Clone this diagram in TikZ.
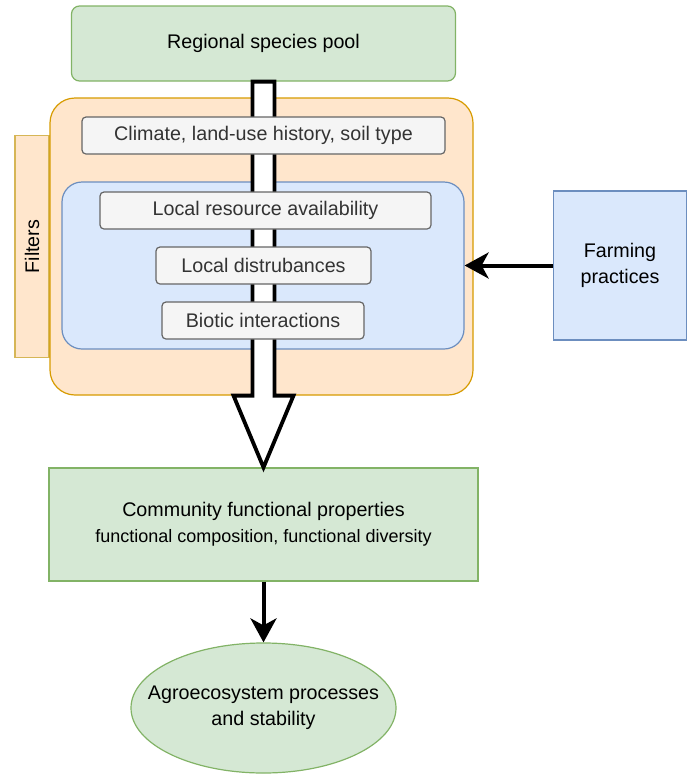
\documentclass[tikz,border=0pt]{standalone}
\usepackage{fontspec}
\setmainfont{Liberation Sans}
\usepackage{tikz}
\usepackage{xcolor}
\usetikzlibrary{arrows.meta,shapes.geometric}
\definecolor{greenfill}{HTML}{D5E8D4}
\definecolor{greenline}{HTML}{82B366}
\definecolor{orangefill}{HTML}{FFE6CC}
\definecolor{orangeline}{HTML}{D79B00}
\definecolor{goldline}{HTML}{D6B656}
\definecolor{bluefill}{HTML}{DAE8FC}
\definecolor{blueline}{HTML}{6C8EBF}
\definecolor{greyfill}{HTML}{F5F5F5}
\definecolor{greyline}{HTML}{666666}
\definecolor{greytext}{HTML}{333333}

\begin{document}
\begin{tikzpicture}[x=1pt, y=-1pt, font=\fontsize{19.7}{26}\selectfont,
    every node/.style={inner sep=0pt, align=center},
    greenbox/.style={draw=greenline, fill=greenfill, line width=1.2pt},
    orangebox/.style={draw=orangeline, fill=orangefill, line width=1.2pt},
    bluebox/.style={draw=blueline, fill=bluefill, line width=1.2pt},
    filterbox/.style={draw=greyline, fill=greyfill, text=greytext, line width=1.2pt, rounded corners=4pt, minimum height=37pt},
    hollow/.style={draw=black, fill=white, line width=3.8pt, line join=miter},
    conn/.style={draw=black, line width=4pt, -{Stealth[length=24pt, width=26pt, inset=7pt]}}]
    \useasboundingbox (0,0) rectangle (687,774);
    \node[greenbox, rounded corners=8pt, minimum width=384pt, minimum height=75pt] (pool) at (263.5,43.5) {Regional species pool};
    \node[draw=goldline, fill=orangefill, line width=1.2pt, minimum width=34pt, minimum height=222pt] (side) at (32,246.5) {};
    \node[rotate=90] (sidetext) at (side.center) {Filters};
    \node[orangebox, rounded corners=25pt, minimum width=423pt, minimum height=297pt] (filt) at (261.5,246.5) {};
    \node[bluebox, rounded corners=20pt, minimum width=402pt, minimum height=167pt] (local) at (263,265.5) {};
    \node[bluebox, minimum width=133pt, minimum height=149pt] (farm) at (620,265.5) {Farming\\practices};
    \node[greenbox, minimum width=429pt, minimum height=113pt] (comm) at (263.5,524.5) {Community functional properties\\{\fontsize{18}{22}\selectfont functional composition, functional diversity}};
    \node[greenbox, ellipse, minimum width=265pt, minimum height=130pt] (eco) at (263.5,708) {};
    \node (ecotext) at (eco.center) {Agroecosystem processes\\and stability};
    \coordinate (neck) at (pool.south |- filt.south);
    \draw[hollow] ([xshift=-11pt]pool.south) -- ([xshift=-11pt]neck) -- ([xshift=-30pt]neck) -- (comm.north) -- ([xshift=30pt]neck) -- ([xshift=11pt]neck) -- ([xshift=11pt]pool.south) -- cycle;
    \node[filterbox, minimum width=363pt] (climate) at (263.5,135.5) {Climate, land-use history, soil type};
    \node[filterbox, minimum width=331pt] (resource) at (265.5,210.5) {Local resource availability};
    \node[filterbox, minimum width=215pt] (disturb) at (263.5,265.5) {Local distrubances};
    \node[filterbox, minimum width=202pt] (biotic) at (263,320.5) {Biotic interactions};
    \draw[conn] (farm.west) -- (local.east);
    \draw[conn] (comm.south) -- (eco.north);
\end{tikzpicture}
\end{document}
